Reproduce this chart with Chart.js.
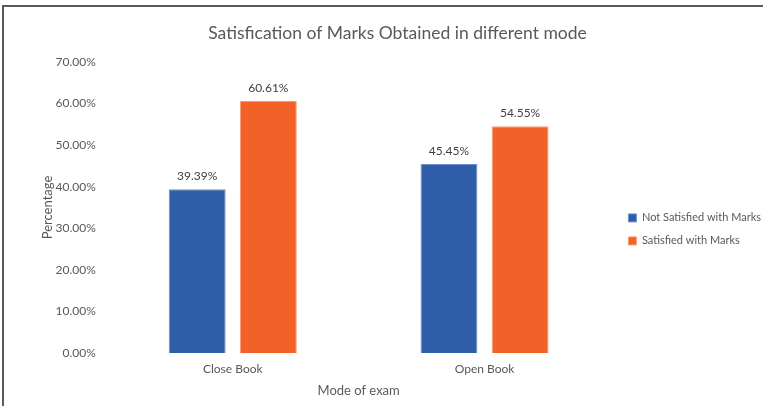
<!DOCTYPE html>
<html>
<head>
<meta charset="utf-8">
<script src="https://cdn.jsdelivr.net/npm/chart.js@4.4.1/dist/chart.umd.min.js"></script>
<style>
  html, body { margin: 0; padding: 0; background: #fff; overflow: hidden; }
  #frame {
    position: absolute; left: 2px; top: 5px; width: 761px; height: 401px;
    border-left: 2px solid #5a5a5a; border-top: 2px solid #5a5a5a; box-sizing: border-box;
  }
  #wrap { position: absolute; left: 0; top: 0; width: 763px; height: 406px; }
</style>
</head>
<body>
<div id="frame"></div>
<div id="wrap"><canvas id="myChart"></canvas></div>
<script>
const categories = ['Close Book', 'Open Book'];
const notSatisfied = [39.39, 45.45];
const satisfied = [60.61, 54.55];
const yTicks = [0, 10, 20, 30, 40, 50, 60, 70];

const textColor = '#595959';
const fontFamily = 'Lato, "Open Sans", sans-serif';

// percentage labels above each bar
const barLabels = {
    id: 'barLabels',
    afterDatasetsDraw(chart) {
        const ctx = chart.ctx;
        ctx.save();
        ctx.font = '12px ' + fontFamily;
        ctx.fillStyle = '#404040';
        ctx.textAlign = 'center';
        ctx.textBaseline = 'bottom';
        chart.data.datasets.forEach((ds, i) => {
            chart.getDatasetMeta(i).data.forEach((bar, j) => {
                ctx.fillText(ds.data[j].toFixed(2) + '%', bar.x, bar.y - 7);
            });
        });
        ctx.restore();
    }
};

let myChart = null;

function renderChart() {
    const chartCanvas = document.getElementById('myChart').getContext('2d');
    myChart = new Chart(chartCanvas, {
        type: 'bar',
        data: {
            labels: categories,
            datasets: [{
                label: 'Not Satisfied with Marks',
                data: notSatisfied,
                backgroundColor: '#2f5ea9',
                borderColor: '#6f8fd0',
                borderWidth: 1
            }, {
                label: 'Satisfied with Marks',
                data: satisfied,
                backgroundColor: '#f26228',
                borderColor: '#f79a70',
                borderWidth: 1
            }]
        },
        options: {
            responsive: true,
            maintainAspectRatio: false,
            animation: false,
            categoryPercentage: 0.565,
            barPercentage: 0.8,
            layout: { padding: { left: 24, top: 23, right: -8, bottom: 7 } },
            scales: {
                x: {
                    grid: { display: false, drawTicks: false },
                    border: { display: false },
                    ticks: { color: textColor, font: { family: fontFamily, size: 12 }, padding: 9 },
                    title: {
                        display: true,
                        text: 'Mode of exam',
                        color: textColor,
                        font: { family: fontFamily, size: 13 },
                        padding: { top: -2, bottom: 0 }
                    }
                },
                y: {
                    min: 0,
                    max: 70,
                    afterBuildTicks: (scale) => {
                        scale.ticks = yTicks.map((v) => ({ value: v }));
                    },
                    grid: { display: false, drawTicks: false },
                    border: { display: false },
                    ticks: {
                        color: textColor,
                        font: { family: fontFamily, size: 12 },
                        padding: 11,
                        callback: (v) => v.toFixed(2) + '%'
                    },
                    title: {
                        display: true,
                        text: 'Percentage',
                        color: textColor,
                        font: { family: fontFamily, size: 13 },
                        padding: { top: 16, bottom: -11 }
                    }
                },
                // spacer between the plot and the legend
                gap: {
                    position: 'right',
                    display: true,
                    grid: { display: false, drawTicks: false },
                    border: { display: false },
                    ticks: { display: false },
                    afterFit: (scale) => { scale.width = 6; }
                }
            },
            plugins: {
                title: {
                    display: true,
                    text: 'Satisfication of Marks Obtained in different mode',
                    color: textColor,
                    font: { family: fontFamily, size: 17.5, weight: 'normal' },
                    padding: { top: 0, bottom: 18 }
                },
                legend: {
                    position: 'right',
                    align: 'start',
                    maxWidth: 200,
                    // empty title only pushes the entries down
                    title: { display: true, text: '', font: { size: 12 }, padding: { top: 163, bottom: 0 } },
                    labels: {
                        color: textColor,
                        font: { family: fontFamily, size: 11 },
                        boxWidth: 8,
                        boxHeight: 8,
                        padding: 12
                    }
                },
                tooltip: { enabled: false }
            }
        },
        plugins: [barLabels]
    });
}

// make sure the font is ready before text gets measured
Promise.all([
    document.fonts.load('12px Lato'),
    document.fonts.load('17px Lato')
]).then(renderChart, renderChart);
</script>
</body>
</html>
